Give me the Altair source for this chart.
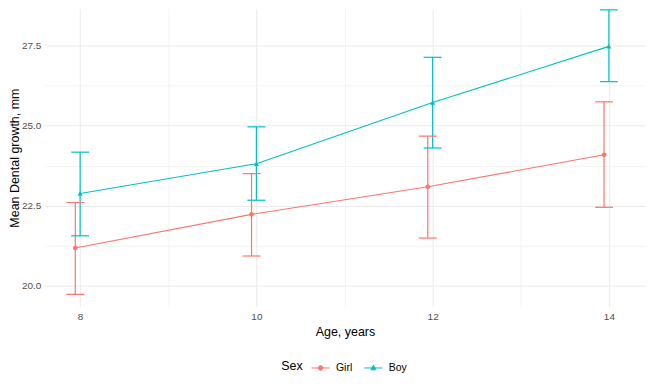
import altair as alt
import pandas as pd

ages = [8, 10, 12, 14]
sexes = ["Girl", "Boy"]
girl_mean = [21.18, 22.23, 23.09, 24.09]
girl_lo = [19.73, 20.93, 21.49, 22.45]
girl_hi = [22.60, 23.50, 24.67, 25.74]
boy_mean = [22.88, 23.81, 25.72, 27.47]
boy_lo = [21.56, 22.67, 24.30, 26.37]
boy_hi = [24.17, 24.96, 27.13, 28.61]

rows = []
for s, m, lo, hi in [("Girl", girl_mean, girl_lo, girl_hi), ("Boy", boy_mean, boy_lo, boy_hi)]:
    for a, mv, l, h in zip(ages, m, lo, hi):
        rows.append({"Age": a, "Sex": s, "mean": mv, "lo": l, "hi": h})
df = pd.DataFrame(rows)

FONT = "Liberation Sans"
colors = ["#F8766D", "#00BFC4"]

base = alt.Chart(df).transform_calculate(
    xp="datum.Sex == 'Girl' ? datum.Age - 0.055 : datum.Age"
)

xscale = alt.Scale(domain=[7.6, 14.41], nice=False, zero=False)
yscale = alt.Scale(domain=[19.35, 28.65], nice=False, zero=False)
cscale = alt.Scale(domain=sexes, range=colors)

xaxis = alt.Axis(
    title="Age, years",
    values=[8, 9, 10, 11, 12, 13, 14],
    labelExpr="datum.value % 2 == 0 ? format(datum.value, 'd') : ''",
    gridColor={"condition": {"test": "datum.value % 2 == 1", "value": "#F3F3F3"}, "value": "#EBEBEB"},
    domain=False, ticks=False, labelPadding=5, titlePadding=4,
)
yaxis = alt.Axis(
    title="Mean Dental growth, mm",
    values=[20, 21.25, 22.5, 23.75, 25, 26.25, 27.5],
    labelExpr="datum.value % 2.5 == 0 ? format(datum.value, '.1f') : ''",
    gridColor={"condition": {"test": "datum.value % 2.5 != 0", "value": "#F3F3F3"}, "value": "#EBEBEB"},
    domain=False, ticks=False, labelPadding=4, titlePadding=0,
)

girl_path = "M-1,0L1,0M0.25,0A0.25,0.25 0 1,1 -0.25,0A0.25,0.25 0 1,1 0.25,0Z"
boy_path = "M-1,0L1,0M0,-0.3L0.28,0.2L-0.28,0.2Z"

legend = alt.Legend(
    title="Sex", orient="none", legendX=237, legendY=351,
    direction="horizontal", titleOrient="left", titlePadding=8,
    symbolSize=324, labelOffset=6, columnPadding=9,
    symbolType=alt.ExprRef(expr=f"datum.value == 'Girl' ? '{girl_path}' : '{boy_path}'"),
    symbolFillColor=alt.ExprRef(expr="datum.value == 'Girl' ? '#F8766D' : '#00BFC4'"),
    symbolStrokeWidth=1,
)

line = base.mark_line(strokeWidth=1.1).encode(
    x=alt.X("xp:Q", scale=xscale, axis=xaxis),
    y=alt.Y("mean:Q", scale=yscale, axis=yaxis),
    color=alt.Color("Sex:N", scale=cscale, legend=legend, sort=sexes),
    detail="Sex:N",
)
rule = base.mark_rule(strokeWidth=1.2, opacity=1).encode(
    x="xp:Q", y="lo:Q", y2="hi:Q",
    color=alt.Color("Sex:N", scale=cscale, legend=None),
)
tick_hi = base.mark_tick(orient="horizontal", size=18, thickness=1.2, opacity=1).encode(
    x="xp:Q", y="hi:Q", color=alt.Color("Sex:N", scale=cscale, legend=None),
)
tick_lo = base.mark_tick(orient="horizontal", size=18, thickness=1.2, opacity=1).encode(
    x="xp:Q", y="lo:Q", color=alt.Color("Sex:N", scale=cscale, legend=None),
)
points_girl = base.transform_filter("datum.Sex == 'Girl'").mark_point(
    filled=True, size=22, opacity=1, shape="circle"
).encode(x="xp:Q", y="mean:Q", color=alt.Color("Sex:N", scale=cscale, legend=None))
points_boy = base.transform_filter("datum.Sex == 'Boy'").mark_point(
    filled=True, size=26, opacity=1, shape="triangle-up"
).encode(x="xp:Q", y="mean:Q", color=alt.Color("Sex:N", scale=cscale, legend=None))

chart = alt.layer(line, rule, tick_hi, tick_lo, points_girl, points_boy).properties(
    width=602, height=299,
    padding={"left": 0, "top": 0, "right": 5, "bottom": 5},
).configure_view(stroke=None).configure_axis(
    labelFont=FONT, titleFont=FONT, labelFontSize=10, titleFontSize=12.5,
    labelColor="#4D4D4D", titleColor="#000000", titleFontWeight="normal",
).configure_legend(
    labelFont=FONT, titleFont=FONT, labelFontSize=10.5, titleFontSize=12.5,
    titleFontWeight="normal", labelColor="#000000", titleColor="#000000",
)

chart.save("out.html", embed_options={"renderer": "svg", "actions": False})
